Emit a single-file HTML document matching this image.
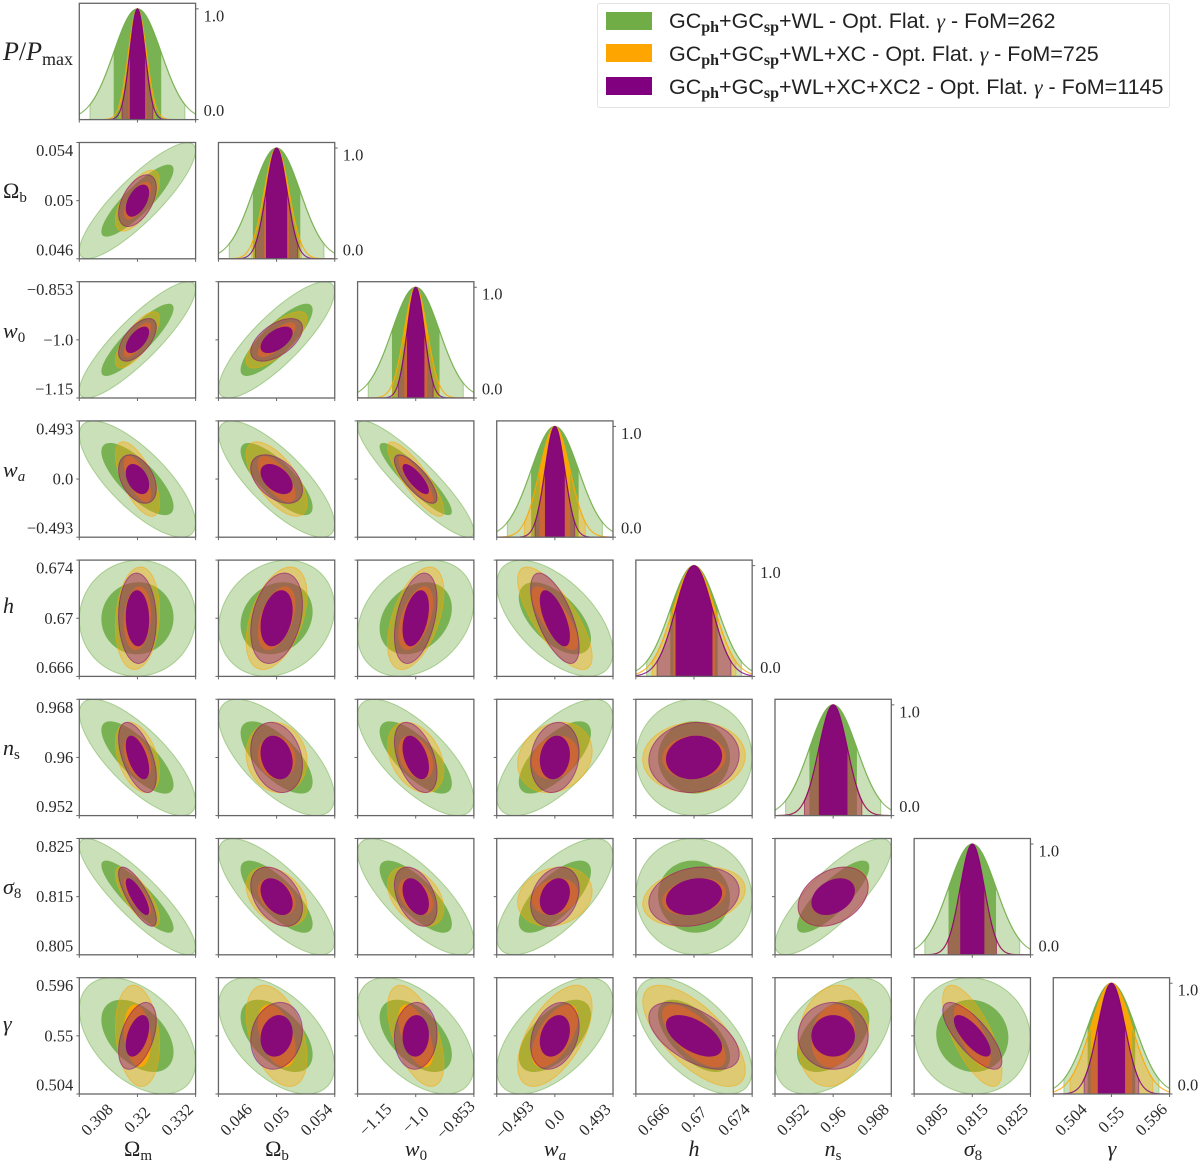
<!DOCTYPE html>
<html lang="en">
<head>
<meta charset="utf-8">
<title>Fisher corner plot</title>
<style>
html,body{margin:0;padding:0;background:#fff;}
svg{display:block;}
.tick{font-family:"Liberation Serif",serif;font-size:16.5px;fill:#2b2b2b;}
.axl{font-family:"Liberation Serif",serif;font-size:22px;fill:#222;}
.sub{font-size:15px;}
.leg{font-family:"Liberation Sans",sans-serif;font-size:21.5px;fill:#222;}
</style>
</head>
<body>
<svg id="chart" xmlns="http://www.w3.org/2000/svg" width="1200" height="1163" viewBox="0 0 1200 1163">
  <rect width="1200" height="1163" fill="#fff"/>
  <g id="panels"></g>

  <g class="axl">
    <text x="3" y="60" style="font-size:26px"><tspan font-style="italic">P</tspan>/<tspan font-style="italic">P</tspan><tspan style="font-size:18px" dy="5">max</tspan></text>
    <text x="3" y="198">Ω<tspan class="sub" dy="4">b</tspan></text>
    <text x="3" y="338"><tspan font-style="italic">w</tspan><tspan class="sub" dy="4">0</tspan></text>
    <text x="3" y="477"><tspan font-style="italic">w</tspan><tspan class="sub" font-style="italic" dy="4">a</tspan></text>
    <text x="3" y="613" font-style="italic">h</text>
    <text x="3" y="755"><tspan font-style="italic">n</tspan><tspan class="sub" dy="4">s</tspan></text>
    <text x="3" y="894"><tspan font-style="italic">σ</tspan><tspan class="sub" dy="4">8</tspan></text>
    <text x="3" y="1031" font-style="italic">γ</text>
  </g>

  <g class="axl" text-anchor="middle">
    <text x="138" y="1156">Ω<tspan class="sub" dy="4">m</tspan></text>
    <text x="277" y="1156">Ω<tspan class="sub" dy="4">b</tspan></text>
    <text x="416" y="1156"><tspan font-style="italic">w</tspan><tspan class="sub" dy="4">0</tspan></text>
    <text x="555" y="1156"><tspan font-style="italic">w</tspan><tspan class="sub" font-style="italic" dy="4">a</tspan></text>
    <text x="694" y="1156" font-style="italic">h</text>
    <text x="833" y="1156"><tspan font-style="italic">n</tspan><tspan class="sub" dy="4">s</tspan></text>
    <text x="973" y="1156"><tspan font-style="italic">σ</tspan><tspan class="sub" dy="4">8</tspan></text>
    <text x="1112" y="1156" font-style="italic">γ</text>
  </g>

  <g>
    <rect x="597.5" y="3.5" width="572" height="104" rx="2" fill="#fff" stroke="#e4e4e4"/>
    <g>
      <rect x="606" y="12" width="46" height="18" fill="#70AD47"/>
      <text class="leg" x="669" y="28">GC<tspan font-family="Liberation Serif" font-weight="bold" font-size="16" dy="4">ph</tspan><tspan dy="-4">+GC</tspan><tspan font-family="Liberation Serif" font-weight="bold" font-size="16" dy="4">sp</tspan><tspan dy="-4">+WL - Opt. Flat. </tspan><tspan font-family="Liberation Serif" font-style="italic">γ</tspan> - FoM=262</text>
    </g>
    <g>
      <rect x="606" y="44" width="46" height="18" fill="#FFA500"/>
      <text class="leg" x="669" y="61">GC<tspan font-family="Liberation Serif" font-weight="bold" font-size="16" dy="4">ph</tspan><tspan dy="-4">+GC</tspan><tspan font-family="Liberation Serif" font-weight="bold" font-size="16" dy="4">sp</tspan><tspan dy="-4">+WL+XC - Opt. Flat. </tspan><tspan font-family="Liberation Serif" font-style="italic">γ</tspan> - FoM=725</text>
    </g>
    <g>
      <rect x="606" y="77" width="46" height="18" fill="#800080"/>
      <text class="leg" x="669" y="94">GC<tspan font-family="Liberation Serif" font-weight="bold" font-size="16" dy="4">ph</tspan><tspan dy="-4">+GC</tspan><tspan font-family="Liberation Serif" font-weight="bold" font-size="16" dy="4">sp</tspan><tspan dy="-4">+WL+XC+XC2 - Opt. Flat. </tspan><tspan font-family="Liberation Serif" font-style="italic">γ</tspan> - FoM=1145</text>
    </g>
  </g>
</svg>

<script>
// ---- chart data ----
const paramKeys = ['omega-m','omega-b','w0','wa','h','ns','sigma8','gamma'];
const axisLow   = [0.308, 0.046, -1.1485, -0.493, 0.666, 0.952, 0.805, 0.504];
const axisHigh  = [0.332, 0.054, -0.8515,  0.493, 0.674, 0.968, 0.825, 0.596];
const fiducial  = [0.32,  0.05,  -1.0,     0.0,   0.67,  0.96,  0.815, 0.55];
const tickLabels = [
  ['0.308','0.32','0.332'],
  ['0.046','0.05','0.054'],
  ['\u22121.15','\u22121.0','\u22120.853'],
  ['\u22120.493','0.0','0.493'],
  ['0.666','0.67','0.674'],
  ['0.952','0.96','0.968'],
  ['0.805','0.815','0.825'],
  ['0.504','0.55','0.596']
];
const densityTicks = [0, 1];
const densityTickLabels = ['0.0','1.0'];

const sigmaGreen  = [0.0049,  0.00163,  0.0607, 0.2014, 0.00163, 0.00327, 0.00408, 0.0188];
const sigmaOrange = [0.00186, 0.000857, 0.0294, 0.129,  0.00144, 0.00198, 0.00208, 0.01635];
const sigmaPurple = [0.00159, 0.000727, 0.0222, 0.084,  0.00127, 0.00197, 0.00208, 0.0108];

const rhoGreen = [
  [],
  [0.86],
  [0.87, 0.83],
  [-0.76, -0.78, -0.9],
  [0.02, 0.18, 0.28, -0.58],
  [-0.76, -0.68, -0.72, 0.68, 0.0],
  [-0.87, -0.76, -0.76, 0.7, -0.04, 0.82],
  [-0.45, -0.52, -0.52, 0.58, -0.6, 0.46, -0.05]
];
const rhoOrange = [
  [],
  [0.65],
  [0.75, 0.75],
  [-0.65, -0.65, -0.85],
  [0.14, 0.45, 0.5, -0.75],
  [-0.4, -0.1, -0.35, 0.18, 0.05],
  [-0.76, -0.36, -0.4, 0.18, 0.25, 0.35],
  [-0.18, -0.42, -0.55, 0.58, -0.68, 0.14, -0.7]
];
const rhoPurple = [
  [],
  [0.5],
  [0.6, 0.55],
  [-0.4, -0.45, -0.78],
  [-0.05, 0.3, 0.4, -0.65],
  [-0.55, -0.22, -0.45, 0.14, 0.08],
  [-0.78, -0.38, -0.4, 0.26, 0.2, 0.33],
  [0.45, 0.14, 0.05, 0.28, -0.55, 0.0, -0.75]
];

const seriesKeys = ['green','orange','purple'];
const seriesColors = ['#70AD47','#FFA500','#800080'];
const seriesSigmas = [sigmaGreen, sigmaOrange, sigmaPurple];
const seriesRhos = [rhoGreen, rhoOrange, rhoPurple];

// ---- layout ----
const NS = 'http://www.w3.org/2000/svg';
const originX = 79.3, originY = 3.3, stepX = 139.14, stepY = 139.2, size = 116.3;
const K_OUTER = 2.448, K_INNER = 1.52, DENS_MAX = 1.05;
const root = document.getElementById('panels');

function make(tag, attrs, parent) {
  const el = document.createElementNS(NS, tag);
  for (const k in attrs) el.setAttribute(k, attrs[k]);
  parent.appendChild(el);
  return el;
}
function panelLeft(c) { return originX + c * stepX; }
function panelTop(r) { return originY + r * stepY; }
function xAxis(c, v) { return panelLeft(c) + (v - axisLow[c]) / (axisHigh[c] - axisLow[c]) * size; }
function yAxis(r, v) { return panelTop(r) + (axisHigh[r] - v) / (axisHigh[r] - axisLow[r]) * size; }
function densAxis(r, d) { return panelTop(r) + size - d / DENS_MAX * size; }
function gauss(v, mu, s) { return Math.exp(-0.5 * (v - mu) * (v - mu) / (s * s)); }

function ellipsePath(c, r, sx, sy, rho, k) {
  let d = '';
  const q = Math.sqrt(Math.max(0, 1 - rho * rho));
  for (let i = 0; i < 96; i++) {
    const t = i / 96 * 2 * Math.PI;
    const vx = fiducial[c] + k * sx * Math.cos(t);
    const vy = fiducial[r] + k * sy * (rho * Math.cos(t) + q * Math.sin(t));
    d += (i ? 'L' : 'M') + xAxis(c, vx).toFixed(2) + ' ' + yAxis(r, vy).toFixed(2);
  }
  return d + 'Z';
}
function bandPath(p, sigma, k) {
  const mu = fiducial[p], lo = mu - k * sigma, hi = mu + k * sigma;
  let d = 'M' + xAxis(p, lo).toFixed(2) + ' ' + densAxis(p, 0).toFixed(2);
  for (let i = 0; i <= 60; i++) {
    const v = lo + (hi - lo) * i / 60;
    d += 'L' + xAxis(p, v).toFixed(2) + ' ' + densAxis(p, gauss(v, mu, sigma)).toFixed(2);
  }
  return d + 'L' + xAxis(p, hi).toFixed(2) + ' ' + densAxis(p, 0).toFixed(2) + 'Z';
}
function curvePath(p, sigma) {
  let d = '';
  for (let i = 0; i <= 120; i++) {
    const v = axisLow[p] + (axisHigh[p] - axisLow[p]) * i / 120;
    d += (i ? 'L' : 'M') + xAxis(p, v).toFixed(2) + ' ' + densAxis(p, gauss(v, fiducial[p], sigma)).toFixed(2);
  }
  return d;
}

function addText(parent, x, y, str, anchor, rot) {
  const t = make('text', {x: x, y: y, 'text-anchor': anchor, 'class': 'tick'}, parent);
  if (rot) t.setAttribute('transform', 'rotate(' + rot + ' ' + x + ' ' + (y - 5) + ')');
  t.textContent = str;
  return t;
}

function drawFrame(g, r, c) {
  const L = panelLeft(c), T = panelTop(r);
  const spine = make('rect', {x: L, y: T, width: size, height: size, fill: 'none', stroke: '#666', 'stroke-width': 1.3}, g);
  
  
  const ticks = make('g', {stroke: '#666', 'stroke-width': 1}, g);
  
  
  const xs = [xAxis(c, axisLow[c]), L + size / 2, xAxis(c, axisHigh[c])];
  for (let i = 0; i < 3; i++) {
    make('line', {x1: xs[i], x2: xs[i], y1: T + size, y2: T + size + 3}, ticks);
  }
  if (r !== c) {
    const ys = [yAxis(r, axisLow[r]), T + size / 2, yAxis(r, axisHigh[r])];
    for (let i = 0; i < 3; i++) {
      make('line', {x1: L - 3, x2: L, y1: ys[i], y2: ys[i]}, ticks);
    }
    if (c === 0) {
      const shift = [-9, 0, 8];
      for (let i = 0; i < 3; i++) {
        const lab = addText(g, L - 6, ys[i] + shift[i] + 5.5, tickLabels[r][i], 'end');
        
        
      }
    }
  } else {
    const shift = [-9, 7];
    for (let i = 0; i < densityTicks.length; i++) {
      const yy = densAxis(r, densityTicks[i]);
      make('line', {x1: L + size, x2: L + size + 3, y1: yy, y2: yy}, ticks);
      const lab = addText(g, L + size + 8, yy + shift[i] + 5.5, densityTickLabels[i], 'start');
      
      
    }
  }
  if (r === paramKeys.length - 1) {
    const shift = [18, 0, -18];
    for (let i = 0; i < 3; i++) {
      const lab = addText(g, xs[i] + shift[i], 1125, tickLabels[c][i], 'middle', -45);
      
      
    }
  }
}

function drawContour(g, r, c) {
  for (let s = 0; s < seriesKeys.length; s++) {
    const sx = seriesSigmas[s][c], sy = seriesSigmas[s][r], rho = seriesRhos[s][r][c];
    const outer = make('path', {d: ellipsePath(c, r, sx, sy, rho, K_OUTER), fill: seriesColors[s], 'fill-opacity': 0.38, stroke: seriesColors[s], 'stroke-opacity': 0.5, 'stroke-width': 1}, g);
    
    
    const inner = make('path', {d: ellipsePath(c, r, sx, sy, rho, K_INNER), fill: seriesColors[s], 'fill-opacity': 0.9}, g);
    
    
  }
}

function drawMarginal(g, p) {
  for (let s = 0; s < seriesKeys.length; s++) {
    const sig = seriesSigmas[s][p];
    const band2 = make('path', {d: bandPath(p, sig, 2), fill: seriesColors[s], 'fill-opacity': 0.38, stroke: seriesColors[s], 'stroke-opacity': 0.5, 'stroke-width': 1}, g);
    
    
    const band1 = make('path', {d: bandPath(p, sig, 1), fill: seriesColors[s], 'fill-opacity': 0.9}, g);
    
    
    const line = make('path', {d: curvePath(p, sig), fill: 'none', stroke: seriesColors[s], 'stroke-opacity': 0.8, 'stroke-width': 1.2}, g);
    
    
  }
}

const defs = make('defs', {}, root);
for (let r = 0; r < paramKeys.length; r++) {
  for (let c = 0; c <= r; c++) {
    const id = 'clip-' + r + '-' + c;
    const cp = make('clipPath', {id: id}, defs);
    make('rect', {x: panelLeft(c), y: panelTop(r), width: size, height: size}, cp);
    const panel = make('g', {}, root);
    
    
    const plot = make('g', {'clip-path': 'url(#' + id + ')'}, panel);
    if (r === c) drawMarginal(plot, r); else drawContour(plot, r, c);
    drawFrame(panel, r, c);
  }
}
</script>
</body>
</html>
